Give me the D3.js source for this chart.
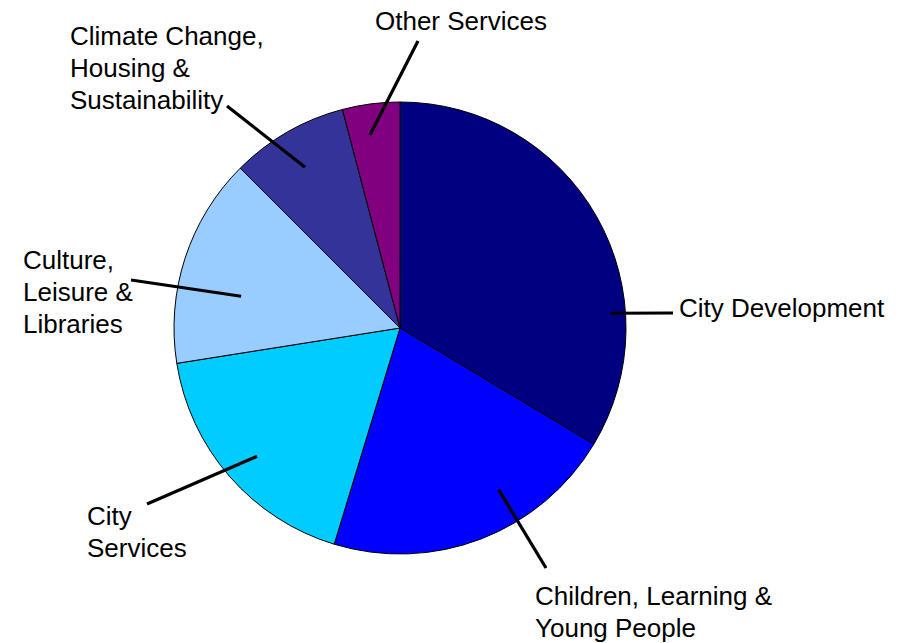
<!DOCTYPE html>
<html>
<head>
<meta charset="utf-8">
<script src="https://cdn.jsdelivr.net/npm/d3@7"></script>
<style>
  html, body { margin: 0; padding: 0; background: #ffffff; }
  svg { display: block; }
</style>
</head>
<body>
<svg id="chart" width="906" height="643"></svg>
<script>
// Spending share by directorate (percent), clockwise from 12 o'clock
const categories = [
  "City Development",
  "Children, Learning & Young People",
  "City Services",
  "Culture, Leisure & Libraries",
  "Climate Change, Housing & Sustainability",
  "Other Services"
];
const values = [33.6, 21.1, 17.8, 15.0, 8.4, 4.1];
const colors = ["#000080", "#0000FF", "#00CCFF", "#99CCFF", "#333399", "#800080"];

// Label text broken into lines as drawn beside the pie
const labelLines = [
  ["City Development"],
  ["Children, Learning &", "Young People"],
  ["City", "Services"],
  ["Culture,", "Leisure &", "Libraries"],
  ["Climate Change,", "Housing &", "Sustainability"],
  ["Other Services"]
];

// Label placement: text anchor, outer end of the leader line,
// and where the leader touches the slice (fraction across the slice, fraction of radius)
const labelLayout = [
  { tx: 679, ty: 317, ox: 673, oy: 313, t: 0.711, rf: 0.935 },
  { tx: 535, ty: 605, ox: 546, oy: 568, t: 0.364, rf: 0.838 },
  { tx: 87,  ty: 525, ox: 147, oy: 504, t: 0.486, rf: 0.850 },
  { tx: 23,  ty: 269, ox: 131, oy: 280, t: 0.376, rf: 0.717 },
  { tx: 70,  ty: 45,  ox: 227, oy: 106, t: 0.477, rf: 0.826 },
  { tx: 375, ty: 30,  ox: 418, oy: 41,  t: 0.400, rf: 0.864 }
];

const cx = 400, cy = 328, R = 226;
const lineHeight = 32;

const svg = d3.select("#chart");
const data = categories.map((c, i) => ({ name: c, value: values[i], i }));

const pie = d3.pie().value(d => d.value).sort(null);
const arcs = pie(data);
const arc = d3.arc().innerRadius(0).outerRadius(R);

const g = svg.append("g").attr("transform", `translate(${cx},${cy})`);

g.selectAll("path.slice")
  .data(arcs)
  .enter().append("path")
  .attr("class", "slice")
  .attr("d", arc)
  .attr("fill", d => colors[d.data.i])
  .attr("stroke", "#000")
  .attr("stroke-width", 1)
  .attr("stroke-linejoin", "round");

// Leader lines from inside each slice out to its label
const leaders = svg.append("g");
arcs.forEach(a => {
  const L = labelLayout[a.data.i];
  const ang = a.startAngle + L.t * (a.endAngle - a.startAngle);
  const r = L.rf * R;
  const x1 = cx + r * Math.sin(ang);
  const y1 = cy - r * Math.cos(ang);
  leaders.append("line")
    .attr("x1", x1).attr("y1", y1)
    .attr("x2", L.ox).attr("y2", L.oy)
    .attr("stroke", "#000")
    .attr("stroke-width", 3.2);
});

// Category labels
const labels = svg.append("g")
  .attr("font-family", "'Liberation Sans', Arial, Helvetica, sans-serif")
  .attr("font-size", 26)
  .attr("fill", "#000");

labelLines.forEach((lines, i) => {
  const L = labelLayout[i];
  const t = labels.append("text").attr("x", L.tx).attr("y", L.ty);
  lines.forEach((ln, k) => {
    t.append("tspan")
      .attr("x", L.tx)
      .attr("y", L.ty + k * lineHeight)
      .text(ln);
  });
});
</script>
</body>
</html>
